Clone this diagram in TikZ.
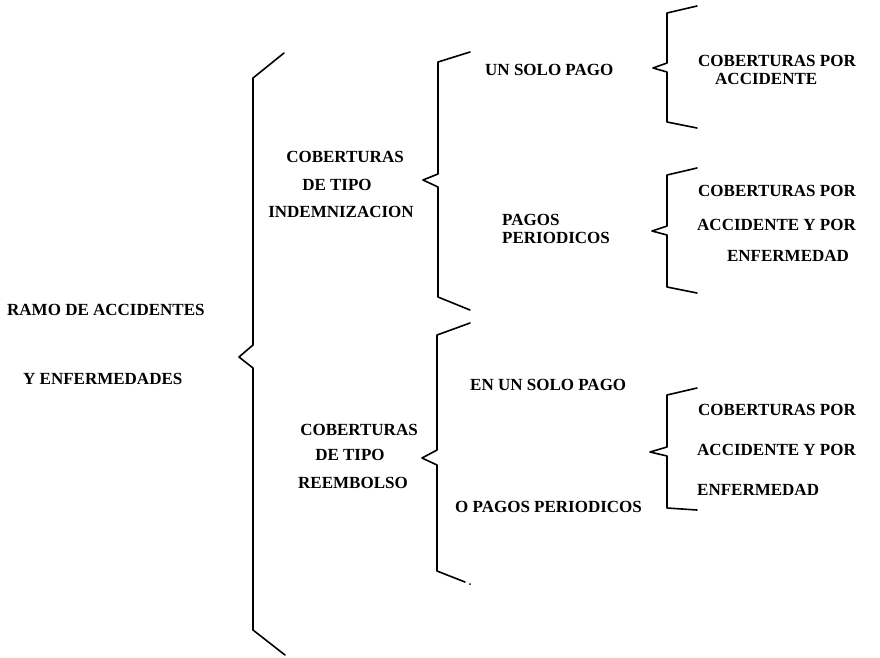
\documentclass[tikz,border=0pt]{standalone}
\usepackage{fontspec}
\setmainfont{Liberation Serif}
\begin{document}
\begin{tikzpicture}[x=1pt,y=-1pt,
  lbl/.style={inner sep=0pt,font=\fontsize{17}{18}\selectfont\bfseries},
  brace/.style={line width=1.6pt,line join=round,line cap=round}]
\useasboundingbox[fill=white] (0,0) rectangle (880,657);
% ---- texts ----
\node[lbl,anchor=west] (ramo) at (7,310) {RAMO DE ACCIDENTES};
\node[lbl,anchor=west] (yenf) at (23,379) {Y ENFERMEDADES};
\node[lbl] (ci1) at (345,157) {COBERTURAS};
\node[lbl] (ci2) at (337,185) {DE TIPO};
\node[lbl] (ci3) at (341,212) {INDEMNIZACION};
\node[lbl] (cr1) at (359,430) {COBERTURAS};
\node[lbl] (cr2) at (350,455) {DE TIPO};
\node[lbl] (cr3) at (353,483) {REEMBOLSO};
\node[lbl,anchor=west] (usp) at (485,70) {UN SOLO PAGO};
\node[lbl,anchor=west,align=left,font=\fontsize{17}{18}\selectfont\bfseries] (pp) at (502,229) {PAGOS\\PERIODICOS};
\node[lbl,anchor=west] (eusp) at (470,385) {EN UN SOLO PAGO};
\node[lbl,anchor=west] (opp) at (455,507) {O PAGOS PERIODICOS};
\node[lbl,anchor=west,align=left,font=\fontsize{17}{18}\selectfont\bfseries] (a) at (698,69.5) {COBERTURAS POR\\\hspace*{17pt}ACCIDENTE};
\node[lbl,anchor=west] (b1) at (698,191) {COBERTURAS POR};
\node[lbl,anchor=west] (b2) at (697,225) {ACCIDENTE Y POR};
\node[lbl] (b3) at (788,256) {ENFERMEDAD};
\node[lbl,anchor=west] (c1) at (698,410) {COBERTURAS POR};
\node[lbl,anchor=west] (c2) at (697,450) {ACCIDENTE Y POR};
\node[lbl,anchor=west] (c3) at (697,490) {ENFERMEDAD};
% ---- braces ----
% main brace
\draw[brace] (284,53) -- (253,78) -- (253,345) -- (239,357) -- (253,368) -- (253,630) -- (285,655);
% indemnizacion
\draw[brace] (470,52) -- (438,62) -- (438,174) -- (423,180) -- (438,187) -- (438,297) -- (470,310);
% reembolso
\draw[brace] (470,323) -- (437,335) -- (437,450) -- (422,458) -- (437,465) -- (437,571) -- (465,582);
\fill (470,584) circle (1pt);
% right braces
\draw[brace] (697,6) -- (667,13) -- (667,63) -- (653,68) -- (667,72) -- (667,122) -- (697,128);
\draw[brace] (697,168) -- (667,175) -- (667,226) -- (652,231) -- (667,235) -- (667,287) -- (697,293);
\draw[brace] (697,388) -- (667,395) -- (667,447) -- (650,452) -- (667,456) -- (667,508) -- (697,510);
\end{tikzpicture}
\end{document}
